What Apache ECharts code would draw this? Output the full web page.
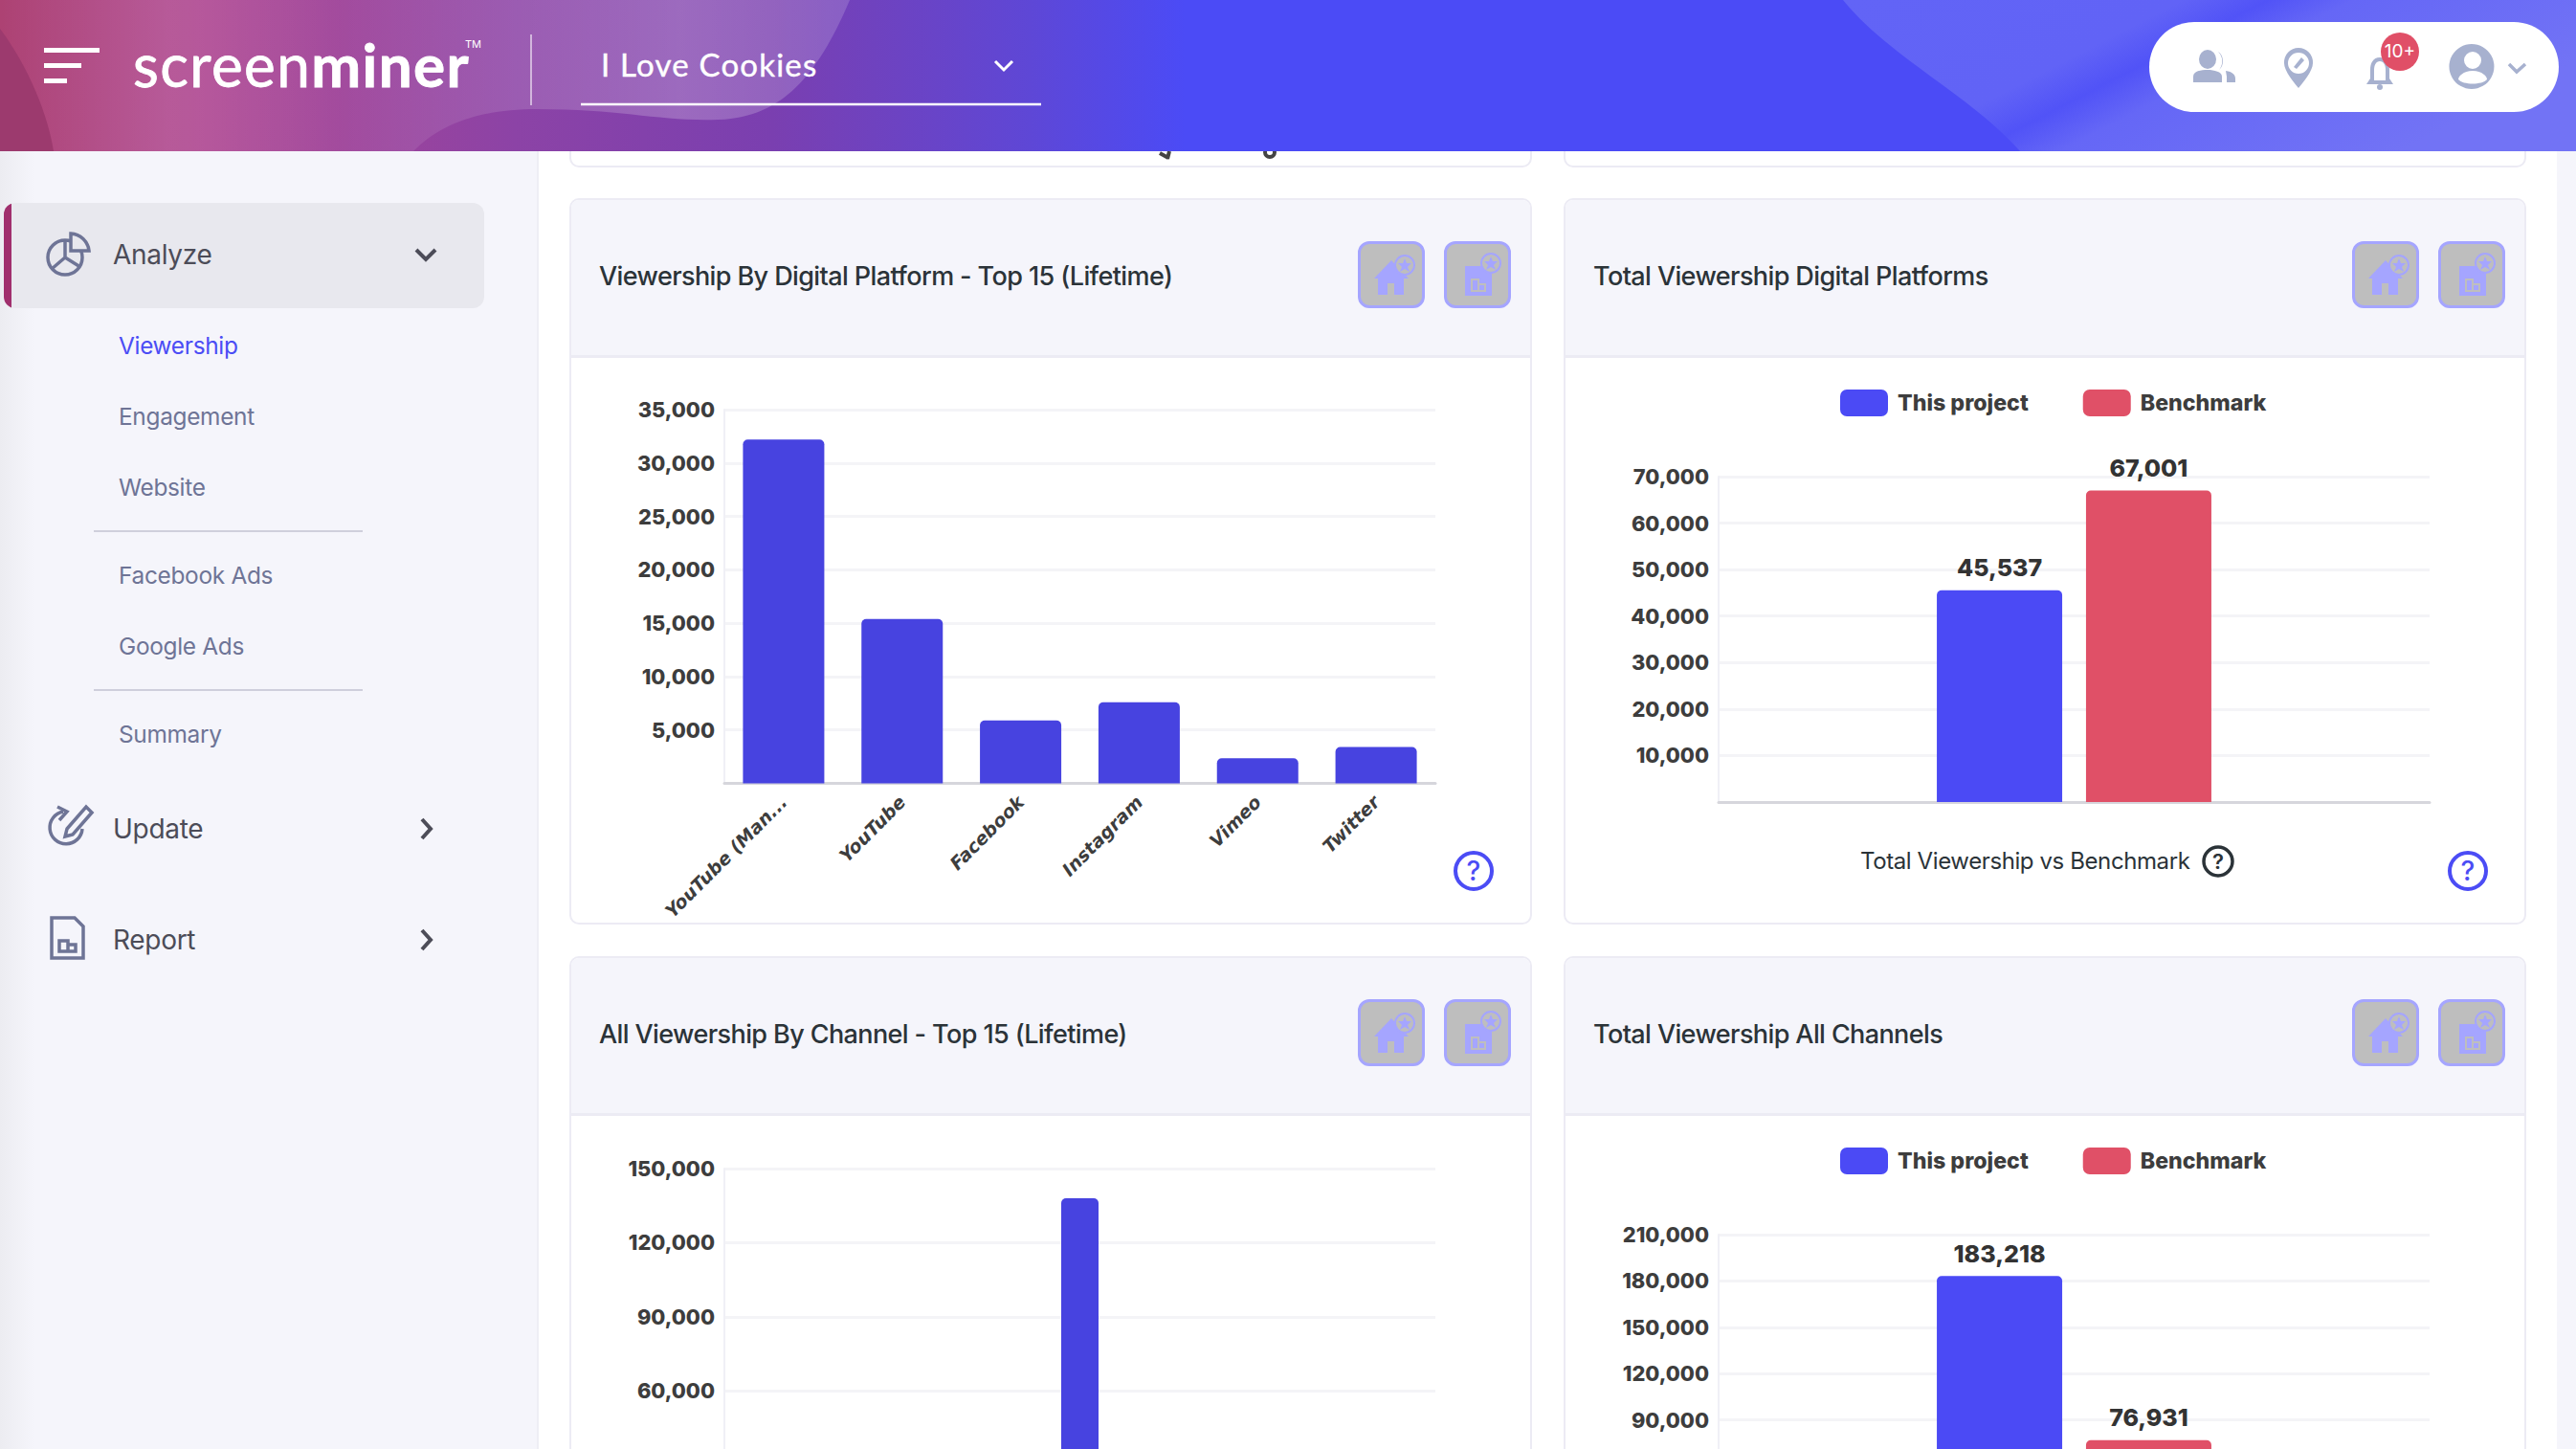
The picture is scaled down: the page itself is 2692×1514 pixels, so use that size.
<!DOCTYPE html>
<html>
<head>
<meta charset="utf-8">
<title>screenminer - Viewership</title>
<script src="https://cdn.jsdelivr.net/npm/echarts@6/dist/echarts.min.js"></script>
<style>
    html, body { margin: 0; padding: 0; width: 2692px; height: 1514px; overflow: hidden; background: #fff; font-family: Inter, sans-serif; }
    .abs { position: absolute; white-space: nowrap; }
    .header { position: absolute; left: 0; top: 0; width: 2692px; height: 158px; z-index: 5;
        background: linear-gradient(90deg, #ad4273 0, #ad4490 8%, #8c43a6 20%, #7a3fb0 30%, #5e47d6 40%, #4b4bf6 46%); }
    .header svg { position: absolute; left: 0; top: 0; }
    .sidebar { position: absolute; left: 0; top: 158px; width: 561px; height: 1356px; border-right: 2px solid #eeeef5;
        background: linear-gradient(90deg, #ececf1 0, #f5f5fb 36px); }
    .scrollbar { position: absolute; left: 2672px; top: 158px; width: 20px; height: 1356px; background: #f5f5fb; }
    .active { position: absolute; left: 4px; top: 212px; width: 502px; height: 110px; background: #e8e8ee; border-radius: 12px; overflow: hidden; }
    .active i { position: absolute; left: 0; top: 0; width: 8px; height: 110px; background: #a02f6d; }
    .menu { font-size: 28px; color: #4c4c58; line-height: 40px; letter-spacing: -0.3px; }
    .sub { font-size: 24.4px; color: #6e7496; line-height: 34px; left: 124px; letter-spacing: -0.3px; }
    .rule { position: absolute; left: 98px; width: 281px; height: 2px; background: #cfcfdc; }
    .card { position: absolute; box-sizing: border-box; width: 1006px; border: 2px solid #ecebf4; border-radius: 10px; background: #fff; overflow: hidden; }
    .card-head { position: absolute; left: 0; top: 0; width: 100%; height: 165px; background: #f5f5fb; border-bottom: 3px solid #ecebf4; box-sizing: border-box; }
    .title { position: absolute; left: 29px; top: 60px; font-size: 27px; line-height: 40px; font-weight: 500; color: #2b3338; white-space: nowrap; letter-spacing: -0.6px; }
    .btn { position: absolute; width: 70px; height: 70px; box-sizing: border-box; background: #bebebe; border: 3px solid #a5a5ff; border-radius: 12px; }
    .btn svg { position: absolute; left: 0; top: 0; }
    .chart { position: absolute; width: 1001px; }
    .caption { font-size: 24px; color: #2b3338; line-height: 36px; letter-spacing: -0.4px; }
    svg.icon { position: absolute; overflow: visible; }
</style>
</head>
<body>

<div class="sidebar"></div>
<div class="scrollbar"></div>

<div class="active"><i></i></div>
<svg class="icon" style="left:0;top:0" width="600" height="1100" fill="none" stroke="#6e7496" stroke-width="3.5">
    <!-- analyze -->
    <circle cx="68" cy="269" r="18"></circle>
    <path d="M68 251 V269 L54 281 M68 269 L84 279"></path>
    <path d="M74 244 A20 20 0 0 1 93 262 H74 Z" fill="#e8e8ee"></path>
    <path d="M435 261 L445 271 L455 261" stroke="#4c4c58" stroke-width="4"></path>
    <!-- update -->
    <path d="M86 866 A17 17 0 1 1 66 848 M60 843 L70 848 L62 857"></path>
    <path d="M70 866 L90 843 L96 849 L76 872 L68 874 Z"></path>
    <path d="M441 856 L450 866 L441 876" stroke="#4c4c58" stroke-width="4"></path>
    <!-- report -->
    <path d="M54 959 H78 L87 968 V1001 H54 Z"></path>
    <path d="M62 983 H71 V994 H62 Z M71 987 H79 V994 H71"></path>
    <path d="M441 972 L450 982 L441 992" stroke="#4c4c58" stroke-width="4"></path>
</svg>
<div class="abs menu" style="left:118px;top:246px">Analyze</div>
<div class="abs sub" style="top:344px;color:#4b4cf5">Viewership</div>
<div class="abs sub" style="top:418px">Engagement</div>
<div class="abs sub" style="top:492px">Website</div>
<div class="rule" style="top:554px"></div>
<div class="abs sub" style="top:584px">Facebook Ads</div>
<div class="abs sub" style="top:658px">Google Ads</div>
<div class="rule" style="top:720px"></div>
<div class="abs sub" style="top:750px">Summary</div>
<div class="abs menu" style="left:118px;top:846px">Update</div>
<div class="abs menu" style="left:118px;top:962px">Report</div>

<!-- top row, only the bottom edge is visible under the header -->
<div class="card" style="left:595px;top:100px;height:75px"></div>
<div class="card" style="left:1634px;top:100px;height:75px"></div>
<svg class="icon" style="left:0;top:0" width="1400" height="180" fill="none" stroke="#444" stroke-width="4">
    <path d="M1212 160 L1221 165 M1222 158 L1220 166"></path>
    <circle cx="1327" cy="159" r="5"></circle>
</svg>

<div class="card" style="left:595px;top:207px;height:759px"><div class="card-head"><div class="title">Viewership By Digital Platform - Top 15 (Lifetime)</div></div></div>
<div class="card" style="left:1634px;top:207px;height:759px"><div class="card-head"><div class="title">Total Viewership Digital Platforms</div></div></div>
<div class="card" style="left:595px;top:999px;height:600px"><div class="card-head"><div class="title">All Viewership By Channel - Top 15 (Lifetime)</div></div></div>
<div class="card" style="left:1634px;top:999px;height:600px"><div class="card-head"><div class="title">Total Viewership All Channels</div></div></div>

<div id="chart1" class="chart" style="left:597px;top:374px;height:590px"></div>
<div id="chart2" class="chart" style="left:1635px;top:374px;height:590px"></div>
<div id="chart3" class="chart" style="left:597px;top:1166px;height:600px"></div>
<div id="chart4" class="chart" style="left:1635px;top:1166px;height:600px"></div>

<div class="abs caption" style="left:1944px;top:882px">Total Viewership vs Benchmark</div>
<svg class="icon" style="left:0;top:0" width="2692" height="1000" fill="none">
    <circle cx="2318" cy="900" r="15" stroke="#2b3338" stroke-width="3.5"></circle>
    <circle cx="1540" cy="910" r="19" stroke="#4b4cf5" stroke-width="4"></circle>
    <circle cx="2579" cy="910" r="19" stroke="#4b4cf5" stroke-width="4"></circle>
</svg>
<div class="abs" style="left:2308px;top:884px;width:20px;text-align:center;font-size:22px;line-height:32px;font-weight:600;color:#2b3338">?</div>
<div class="abs" style="left:1525px;top:892px;width:30px;text-align:center;font-size:28px;line-height:36px;font-weight:500;color:#4b4cf5">?</div>
<div class="abs" style="left:2564px;top:892px;width:30px;text-align:center;font-size:28px;line-height:36px;font-weight:500;color:#4b4cf5">?</div>

<div class="header">
    <svg width="2692" height="158">
        <defs>
            <linearGradient id="lightBlob" x1="0" x2="1" y1="0" y2="0">
                <stop offset="0" stop-color="#fff" stop-opacity="0"></stop>
                <stop offset="0.2" stop-color="#fff" stop-opacity="0.12"></stop>
                <stop offset="0.4" stop-color="#fff" stop-opacity="0.04"></stop>
                <stop offset="0.8" stop-color="#fff" stop-opacity="0.22"></stop>
                <stop offset="1" stop-color="#fff" stop-opacity="0.16"></stop>
            </linearGradient>
            <linearGradient id="lightRight" x1="0" x2="1" y1="0" y2="0.4">
                <stop offset="0" stop-color="#6264f6"></stop>
                <stop offset="0.4" stop-color="#6163f6"></stop>
                <stop offset="0.5" stop-color="#5153f7"></stop>
                <stop offset="0.6" stop-color="#6567f6"></stop>
                <stop offset="1" stop-color="#7273f5"></stop>
            </linearGradient>
        </defs>
        <path d="M0 0 H888 C850 90 810 123 750 125 C690 127 650 114 562 114 C500 114 460 130 432 158 H0 Z" fill="url(#lightBlob)"></path>
        <path d="M0 30 C30 70 50 120 56 158 H0 Z" fill="#9c3a6e"></path>
        <path d="M1926 0 C1975 60 2060 100 2111 158 H2692 V0 Z" fill="url(#lightRight)"></path>
        <path d="M46 50 H104 V55 H46 Z M46 66 H85 V71 H46 Z M46 82 H70 V87 H46 Z" fill="#fff"></path>
        <path d="M555 36 V110" stroke="#fff" stroke-opacity="0.55" stroke-width="2"></path>
        <path d="M607 109 H1088" stroke="#fff" stroke-width="2.5"></path>
        <path d="M1040 64 L1049 73 L1058 64" fill="none" stroke="#fff" stroke-width="3"></path>
        <rect x="2246" y="23" width="428" height="94" rx="47" fill="#fff"></rect>
        <g fill="#a7b1cf">
            <!-- people -->
            <path d="M2318 54 A9 11 0 0 1 2319 73 A14 14 0 0 0 2318 54 Z"></path>
            <path d="M2326 74 C2333 75 2336 78 2336 82 V86 H2327 V80 Z"></path>
            <ellipse cx="2307" cy="62" rx="9" ry="10"></ellipse>
            <path d="M2292 86 V80 C2292 74 2300 73 2307 73 C2314 73 2322 75 2322 80 V86 Z"></path>
            <!-- pin -->
            <path fill-rule="evenodd" d="M2402 50 A15 15 0 0 1 2417 66 C2417 74 2407 86 2402 92 C2397 86 2387 74 2387 66 A15 15 0 0 1 2402 50 Z M2402 55 A11 11 0 1 0 2402 77 A11 11 0 0 0 2402 55 Z"></path>
            <path d="M2397 70 L2405 60 L2408 63 L2400 72 Z"></path>
            <!-- bell -->
            <path fill-rule="evenodd" d="M2487 60 C2494 60 2497 66 2497 73 V82 L2501 88 H2473 L2477 82 V73 C2477 66 2480 60 2487 60 Z M2487 64 C2483 64 2481 68 2481 73 V84 H2493 V73 C2493 68 2491 64 2487 64 Z"></path>
            <circle cx="2487" cy="91" r="3"></circle>
            <!-- avatar -->
            <path fill-rule="evenodd" d="M2583 46 A23.5 23.5 0 1 1 2582.9 46 Z M2584 54 A9 9 0 1 0 2584 72 A9 9 0 0 0 2584 54 Z M2584 74 C2574 74 2569 80 2569 83 C2574 89 2594 89 2599 83 C2599 80 2594 74 2584 74 Z"></path>
        </g>
        <path d="M2622 67 L2630 75 L2639 67" fill="none" stroke="#a7b1cf" stroke-width="3.5"></path>
        <circle cx="2508" cy="54" r="20" fill="#e04f67"></circle>
    </svg>
    <div class="abs" style="left:2488px;top:42px;width:40px;text-align:center;font-size:19px;line-height:24px;color:#fff">10+</div>
    <div class="abs" style="left:139px;top:52px;font-size:62px;line-height:30px;color:#fff;font-family:Lato,sans-serif;letter-spacing:1.4px;-webkit-text-stroke:0.8px #fff">screen<span style="font-weight:700">miner</span></div>
    <div class="abs" style="left:486px;top:41px;font-size:11px;line-height:10px;color:#fff">TM</div>
    <div class="abs" style="left:628px;top:45px;font-size:33px;line-height:44px;color:#fff;font-family:Lato,sans-serif;letter-spacing:1.2px;-webkit-text-stroke:0.4px #fff">I Love Cookies</div>
</div>

<!-- favourite buttons -->
<script>
    var buttonLefts = [1419, 1509, 2458, 2548];
    var buttonTops = [252, 1044];
    var homeIcon = '<path d="M14 36 L32 17 L50 36 H45 V53 H35 V41 H28 V53 H18 V36 Z" fill="#a5a5ff"/><circle cx="46" cy="22" r="10" fill="#bebebe" stroke="#a5a5ff" stroke-width="2"/><path d="M46 15 L48 20 L53 20 L49 24 L51 29 L46 26 L41 29 L43 24 L39 20 L44 20 Z" fill="#a5a5ff"/>';
    var reportIcon = '<path d="M19 23 H42 L47 28 V54 H19 Z" fill="#a5a5ff"/><path d="M26 37 H33 V49 H26 Z M33 42 H40 V49 H33 Z" fill="none" stroke="#bebebe" stroke-width="2"/><circle cx="46" cy="20" r="10" fill="#bebebe" stroke="#a5a5ff" stroke-width="2"/><path d="M46 13 L48 18 L53 18 L49 22 L51 27 L46 24 L41 27 L43 22 L39 18 L44 18 Z" fill="#a5a5ff"/>';
    buttonTops.forEach(function (top) {
        buttonLefts.forEach(function (left, i) {
            var el = document.createElement('div')
            el.className = 'btn'
            el.style.left = left + 'px'
            el.style.top = top + 'px'
            el.style.zIndex = 2
            el.innerHTML = '<svg width="64" height="64">' + (i % 2 == 0 ? homeIcon : reportIcon) + '</svg>'
            document.body.appendChild(el)
        })
    })
</script>

<script>
    // chart values
    var platformNames = ['YouTube (Man...', 'YouTube', 'Facebook', 'Instagram', 'Vimeo', 'Twitter'];
    var platformViews = [32200, 15400, 5900, 7600, 2350, 3400];

    // only the one tall bar of this chart reaches the visible part of the page
    var channelNames = ['', '', '', '', '', '', '', '', '', '', '', '', ''];
    var channelViews = [null, null, null, null, null, null, 138000, null, null, null, null, null, null];

    var seriesNames = ['This project', 'Benchmark'];
    var seriesColors = ['#4b4af5', '#e05067'];
    var platformTotals = [45537, 67001];
    var channelTotals = [183218, 76931];

    var fontName = 'Inter';
    var textColor = '#3d3d3d';

    function fmt(v) {
        return Number(v).toLocaleString('en-US')
    }

    // lowest is the smallest tick label that still fits on the page
    function baseOption(grid, max, interval, lowest) {
        return {
            animation: false,
            grid: grid,
            yAxis: {
                type: 'value',
                min: 0,
                max: max,
                interval: interval,
                axisTick: { show: false },
                axisLine: { show: true, lineStyle: { color: '#f0f0f6', width: 2 } },
                splitLine: { lineStyle: { color: '#f4f4f7', width: 3 } },
                axisLabel: {
                    margin: 10, color: textColor, fontFamily: fontName, fontWeight: 800, fontSize: 21.8,
                    padding: [0, 0, 3, 0],
                    formatter: function (v) { return v < lowest ? '' : fmt(v) }
                }
            }
        }
    }

    function singleChart(id, grid, max, interval, lowest, names, values, barWidth, xLabels) {
        var option = baseOption(grid, max, interval, lowest)
        option.xAxis = {
            type: 'category',
            data: names,
            axisTick: { show: false },
            axisLine: { lineStyle: { color: '#d6d6dc', width: 3 } },
            axisLabel: {
                show: xLabels, interval: 0, rotate: 45, margin: 16, color: textColor,
                fontFamily: 'DejaVu Sans', fontStyle: 'italic', fontWeight: 700, fontSize: 19
            }
        }
        option.series = [{
            type: 'bar',
            data: values,
            barWidth: barWidth,
            itemStyle: { color: '#4743e0', borderRadius: [5, 5, 0, 0] }
        }]
        echarts.init(document.getElementById(id), null, { renderer: 'svg' }).setOption(option)
    }

    function compareChart(id, grid, max, interval, lowest, totals) {
        var option = baseOption(grid, max, interval, lowest)
        option.xAxis = {
            type: 'category',
            data: [''],
            axisTick: { show: false },
            axisLine: { lineStyle: { color: '#d6d6dc', width: 3 } },
            axisLabel: { show: false }
        }
        option.legend = {
            left: 283,
            top: 28,
            itemWidth: 50,
            itemHeight: 28,
            itemGap: 57,
            icon: 'roundRect',
            data: seriesNames,
            textStyle: { color: textColor, fontFamily: fontName, fontWeight: 800, fontSize: 23.2, padding: [0, 0, 0, 5] }
        }
        option.series = seriesNames.map(function (name, i) {
            return {
                type: 'bar',
                name: name,
                data: [totals[i]],
                barWidth: 131,
                barGap: '19%',
                itemStyle: { color: seriesColors[i], borderRadius: [5, 5, 0, 0] },
                label: {
                    show: true, position: 'top', distance: 11, color: '#333', fontFamily: fontName,
                    fontWeight: 800, fontSize: 25, formatter: function (p) { return fmt(p.value) }
                }
            }
        })
        echarts.init(document.getElementById(id), null, { renderer: 'svg' }).setOption(option)
    }

    singleChart('chart1', { left: 160, right: 98, top: 54, height: 391 }, 35000, 5000, 5000, platformNames, platformViews, 85, true)
    compareChart('chart2', { left: 161, right: 97, top: 124, height: 340 }, 70000, 10000, 10000, platformTotals)
    singleChart('chart3', { left: 160, right: 98, top: 55, height: 387 }, 150000, 30000, 60000, channelNames, channelViews, 39, false)
    compareChart('chart4', { left: 161, right: 97, top: 124, height: 339 }, 210000, 30000, 90000, channelTotals)
</script>
</body>
</html>
